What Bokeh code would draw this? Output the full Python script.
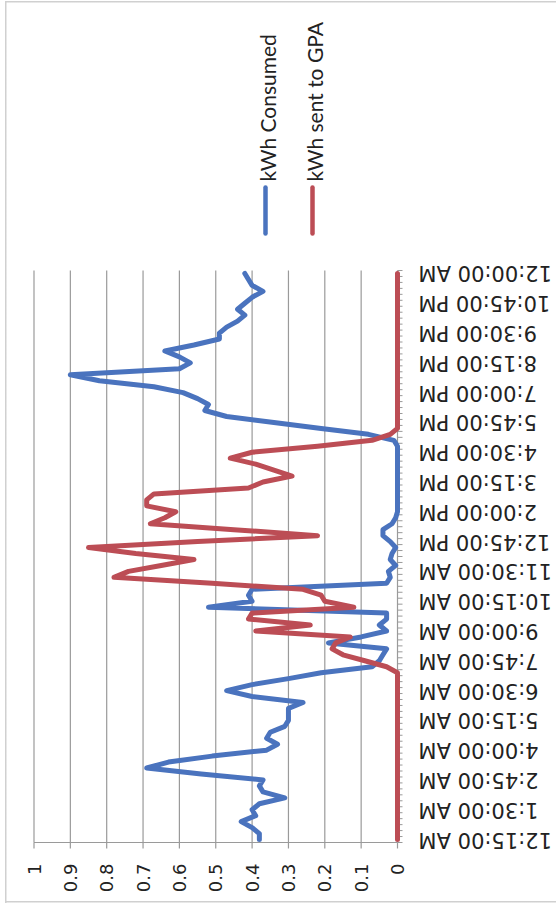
import math

from bokeh.core.properties import value
from bokeh.embed import file_html
from bokeh.models import Range1d
from bokeh.plotting import figure
from bokeh.resources import INLINE

# Readings every 15 minutes, 12:15 AM through midnight (96 slots)
slot = list(range(96))

time_ticks = [0, 5, 10, 15, 20, 25, 30, 35, 40, 45,
              50, 55, 60, 65, 70, 75, 80, 85, 90, 95]
time_labels = ["12:15:00 AM", "1:30:00 AM", "2:45:00 AM", "4:00:00 AM",
               "5:15:00 AM", "6:30:00 AM", "7:45:00 AM", "9:00:00 AM",
               "10:15:00 AM", "11:30:00 AM", "12:45:00 PM", "2:00:00 PM",
               "3:15:00 PM", "4:30:00 PM", "5:45:00 PM", "7:00:00 PM",
               "8:15:00 PM", "9:30:00 PM", "10:45:00 PM", "12:00:00 AM"]

kwh_consumed = [
    0.38, 0.38, 0.40, 0.43, 0.39, 0.40, 0.38, 0.31, 0.37, 0.38,
    0.37, 0.54, 0.69, 0.63, 0.51, 0.36, 0.33, 0.36, 0.35, 0.31,
    0.30, 0.30, 0.30, 0.26, 0.40, 0.47, 0.40, 0.30, 0.21, 0.07,
    0.05, 0.04, 0.03, 0.19, 0.10, 0.03, 0.05, 0.03, 0.03, 0.52,
    0.40, 0.41, 0.40, 0.03, 0.02, 0.025, 0.005, 0.02, 0.015, 0.005,
    0.02, 0.04, 0.04, 0.015, 0.005, 0.0, 0.0, 0.0, 0.0, 0.0,
    0.0, 0.0, 0.0, 0.0, 0.0, 0.0, 0.0, 0.01, 0.08, 0.21,
    0.34, 0.47, 0.53, 0.52, 0.55, 0.59, 0.67, 0.82, 0.90, 0.60,
    0.57, 0.60, 0.64, 0.56, 0.49, 0.49, 0.47, 0.44, 0.42, 0.44,
    0.42, 0.40, 0.37, 0.40, 0.41, 0.42,
]

kwh_sent_to_gpa = [
    0.0, 0.0, 0.0, 0.0, 0.0, 0.0, 0.0, 0.0, 0.0, 0.0,
    0.0, 0.0, 0.0, 0.0, 0.0, 0.0, 0.0, 0.0, 0.0, 0.0,
    0.0, 0.0, 0.0, 0.0, 0.0, 0.0, 0.0, 0.0, 0.0, 0.03,
    0.09, 0.15, 0.18, 0.17, 0.13, 0.39, 0.24, 0.41, 0.40, 0.12,
    0.20, 0.21, 0.26, 0.51, 0.78, 0.74, 0.65, 0.56, 0.72, 0.85,
    0.55, 0.22, 0.45, 0.68, 0.64, 0.61, 0.69, 0.69, 0.67, 0.41,
    0.37, 0.29, 0.34, 0.39, 0.46, 0.40, 0.22, 0.07, 0.02, 0.0,
    0.0, 0.0, 0.0, 0.0, 0.0, 0.0, 0.0, 0.0, 0.0, 0.0,
    0.0, 0.0, 0.0, 0.0, 0.0, 0.0, 0.0, 0.0, 0.0, 0.0,
    0.0, 0.0, 0.0, 0.0, 0.0, 0.0,
]

value_ticks = [0, 0.1, 0.2, 0.3, 0.4, 0.5, 0.6, 0.7, 0.8, 0.9, 1]
value_labels = ["0", "0.1", "0.2", "0.3", "0.4", "0.5",
                "0.6", "0.7", "0.8", "0.9", "1"]

series_names = ["kWh Consumed", "kWh sent to GPA"]
series_colors = ["#4A73BE", "#BC4D55"]

GRID = "#9a9a9a"
INK = "#222222"
EDGE = "#d0d0d0"

# --- page geometry (pixels) -------------------------------------------------
W, H = 556, 909
X_ONE, X_ZERO = 33.5, 397.0                 # where value 1 and value 0 sit
PLOT_TOP, PLOT_BOTTOM = 270.0, 842.0        # extent of the time axis
px_per_value = X_ZERO - X_ONE
px_per_slot = (PLOT_BOTTOM - PLOT_TOP) / len(slot)


def vx(px):
    """Horizontal page pixel -> value units."""
    return (X_ZERO - px) / px_per_value


def sy(py):
    """Vertical page pixel -> slot units."""
    return -0.5 + (PLOT_BOTTOM - py) / px_per_slot


slot_lo, slot_hi = -0.5, len(slot) - 0.5
n_val = len(value_ticks)

# The chart is laid on its side: values run right-to-left along the bottom,
# time runs upward, labelled along the right-hand side.  The frame fills the
# whole page so the sideways axes and legend can be set anywhere on it.
p = figure(width=W, height=H, output_backend="svg", toolbar_location=None,
           x_range=Range1d(vx(0), vx(W)), y_range=Range1d(sy(H), sy(0)),
           x_axis_location=None, y_axis_location=None,
           min_border_left=0, min_border_right=0,
           min_border_top=0, min_border_bottom=0)
p.outline_line_color = None
p.background_fill_color = None
p.border_fill_color = None
p.grid.grid_line_color = None

# thin chart-area edge on the left, top and bottom of the page
edge = f"linear-gradient({EDGE}, {EDGE})"
p.styles = {
    "background": (f"{edge} 5px 1px / 1.5px 902px no-repeat, "
                   f"{edge} 5px 1px / 600px 1.5px no-repeat, "
                   f"{edge} 5px 901px / 600px 1.5px no-repeat, white"),
}

# value gridlines over the plot area
grid_vals = value_ticks[1:]
p.segment(x0=grid_vals, x1=grid_vals, y0=[slot_lo] * len(grid_vals),
          y1=[slot_hi] * len(grid_vals), line_color=GRID, line_width=1.2)

# value axis: base line, outward ticks, labels reading bottom-to-top
p.segment(x0=[value_ticks[0]], x1=[value_ticks[-1]], y0=[slot_lo], y1=[slot_lo],
          line_color=GRID, line_width=1.2)
p.segment(x0=value_ticks, x1=value_ticks, y0=[slot_lo] * n_val,
          y1=[sy(PLOT_BOTTOM + 6)] * n_val, line_color=GRID, line_width=1.2)
p.text(x=value_ticks, y=[sy(PLOT_BOTTOM + 21)] * n_val, text=value_labels,
       angle=math.pi / 2, text_align="right", text_baseline="middle",
       text_font=value("DejaVu Sans"), text_font_size=value("18px"),
       text_color=INK)

# time axis: line at zero, tick marks between slots, upside-down labels
edges = [s - 0.5 for s in slot] + [slot_hi]
p.segment(x0=[0] * len(edges), x1=[vx(X_ZERO + 5)] * len(edges),
          y0=edges, y1=edges, line_color=GRID, line_width=1)
p.segment(x0=[0], x1=[0], y0=[slot_lo], y1=[slot_hi],
          line_color=GRID, line_width=1.2)
p.text(x=[0] * len(time_ticks), y=time_ticks, text=time_labels,
       x_offset=21, angle=math.pi, text_align="right", text_baseline="middle",
       text_font=value("DejaVu Sans"), text_font_size=value("21px"),
       text_color=INK)

for vals, color in zip([kwh_consumed, kwh_sent_to_gpa], series_colors):
    p.line(x=vals, y=slot, line_color=color, line_width=5,
           line_join="round", line_cap="round")

# legend, written sideways above the plot
key_x = [vx(265), vx(312)]
p.segment(x0=key_x, x1=key_x, y0=[sy(233)] * 2, y1=[sy(187)] * 2,
          line_color=series_colors, line_width=4.5, line_cap="round")
p.text(x=[vx(267), vx(314)], y=[sy(181)] * 2, text=series_names,
       angle=math.pi / 2, text_align="left", text_baseline="middle",
       text_font=value("Lato"), text_font_size=value("21px"), text_color=INK)

open("out.html", "w").write(file_html(p, INLINE))
